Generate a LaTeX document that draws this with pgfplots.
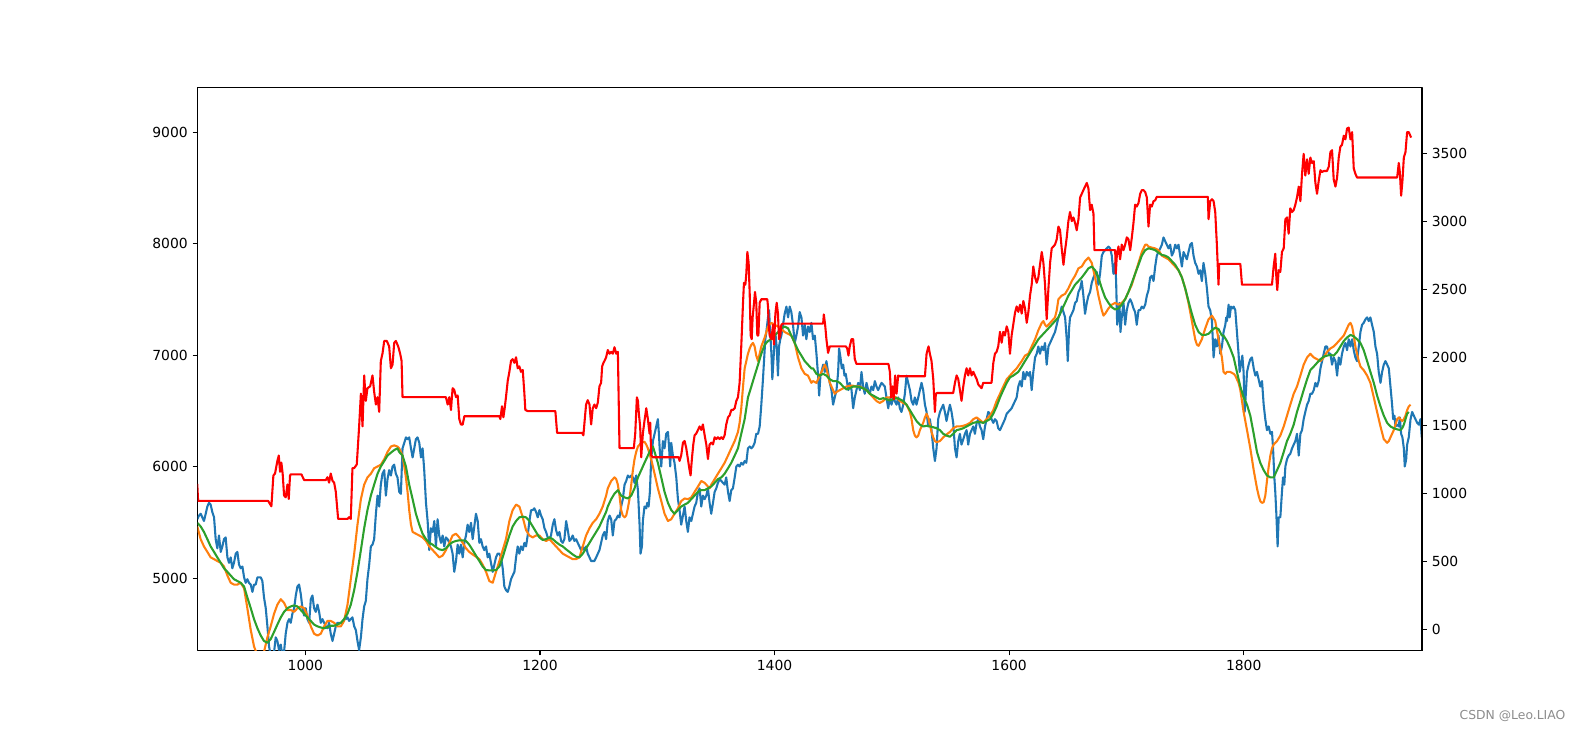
\documentclass[border=0pt]{standalone}
\usepackage{pgfplots}
\pgfplotsset{compat=1.18}
\usepackage{fontspec}
\setmainfont{DejaVu Sans}
\definecolor{cblue}{HTML}{1F77B4}
\definecolor{corange}{HTML}{FF7F0E}
\definecolor{cgreen}{HTML}{2CA02C}
\definecolor{cred}{HTML}{FF0000}
\pgfplotsset{
  mpl/.style={
    scale only axis, width=881.64pt, height=405.27pt,
    at={(142.2pt,57.9pt)}, anchor=south west,
    xmin=908, xmax=1952,
    tick align=outside, major tick length=3.5pt,
    tick style={line width=0.8pt, black},
    axis line style={line width=0.8pt},
    tick label style={font=\fontsize{10}{12}\selectfont},
    /pgf/number format/assume math mode=true,
    /pgf/number format/1000 sep={},
    line join=round,
  }
}
\begin{document}
\begin{tikzpicture}
\useasboundingbox (0,0) rectangle (1137.6pt,526.32pt);
\begin{axis}[mpl,
  ymin=4350, ymax=9398,
  xtick={1000,1200,1400,1600,1800},
  ytick={5000,6000,7000,8000,9000},
  xtick pos=left, ytick pos=left]
\addplot[cblue, line width=1.5pt] coordinates {
(907.8,5528)(909.3,5561)(910.7,5577)(912.1,5545)(913.5,5512)(915.0,5577)(916.4,5642)(917.8,5675)(919.2,5659)(920.6,5594)(922.1,5545)(923.5,5349)(924.9,5267)(926.3,5382)(927.8,5235)(929.2,5284)(930.6,5349)(932.0,5365)(933.5,5186)(934.9,5137)(936.3,5186)(937.7,5088)(939.1,5137)(940.6,5219)(942.0,5235)(943.4,5121)(944.8,5088)(946.3,5104)(947.7,5007)(949.1,4958)(950.5,4990)(951.9,4958)(953.4,4942)(954.8,4876)(956.2,4942)(957.6,4942)(959.1,5007)(960.5,5007)(961.9,5007)(963.3,4974)(964.7,4827)(966.2,4730)(967.6,4567)(969.0,4387)(970.4,4306)(971.9,4290)(973.3,4338)(974.7,4469)(976.1,4436)(977.5,4355)(979.0,4404)(980.4,4306)(981.8,4338)(983.2,4501)(984.7,4599)(986.1,4632)(987.5,4599)(988.9,4681)(990.4,4730)(991.8,4844)(993.2,4925)(994.6,4942)(996.0,4860)(997.5,4730)(998.9,4664)(1000.3,4730)(1001.7,4632)(1003.2,4599)(1004.6,4811)(1006.0,4844)(1007.4,4730)(1008.8,4697)(1010.3,4762)(1011.7,4697)(1013.1,4599)(1014.5,4632)(1016.0,4599)(1017.4,4567)(1018.8,4550)(1020.2,4599)(1021.6,4501)(1023.1,4436)(1024.5,4501)(1025.9,4567)(1027.3,4599)(1028.8,4599)(1030.2,4599)(1031.6,4599)(1033.0,4632)(1034.4,4632)(1035.9,4648)(1037.3,4616)(1038.7,4632)(1040.1,4648)(1041.6,4567)(1043.0,4534)(1044.4,4436)(1045.8,4355)(1047.3,4469)(1048.7,4632)(1050.1,4746)(1051.5,4795)(1052.9,4990)(1054.4,5121)(1055.8,5284)(1057.2,5300)(1058.6,5349)(1060.1,5577)(1061.5,5740)(1062.9,5642)(1064.3,5838)(1065.7,5936)(1067.2,5968)(1068.6,5740)(1070.0,5887)(1071.4,5968)(1072.9,5920)(1074.3,6001)(1075.7,6017)(1077.1,5936)(1078.5,5903)(1080.0,5773)
(1081.4,5756)(1082.8,6164)(1084.3,6213)(1085.7,6262)(1087.1,6246)(1088.5,6262)(1090.0,6164)(1091.4,6082)(1092.8,6164)(1094.2,6246)(1095.6,6262)(1097.1,6213)(1098.5,6082)(1099.9,6164)(1101.3,5968)(1102.8,5675)(1104.2,5512)(1105.6,5251)(1107.0,5447)(1108.5,5414)(1109.9,5512)(1111.3,5284)(1112.7,5528)(1114.1,5382)(1115.6,5316)(1117.0,5382)(1118.4,5284)(1119.8,5365)(1121.3,5349)(1122.7,5316)(1124.1,5284)(1125.5,5219)(1126.9,5056)(1128.4,5153)(1129.8,5300)(1131.2,5219)(1132.6,5300)(1134.1,5186)(1135.5,5316)(1136.9,5382)(1138.3,5479)(1139.7,5414)(1141.2,5496)(1142.6,5349)(1144.0,5463)(1145.4,5577)(1146.9,5512)(1148.3,5316)(1149.7,5349)(1151.1,5284)(1152.5,5251)(1154.0,5284)(1155.4,5186)(1156.8,5219)(1158.2,5137)(1159.7,5056)(1161.1,5121)(1162.5,5186)(1163.9,5219)(1165.4,5219)(1166.8,5186)(1168.2,5088)(1169.6,4925)(1171.0,4893)(1172.5,4876)(1173.9,4925)(1175.3,4990)(1176.7,5023)(1178.2,5056)(1179.6,5186)(1181.0,5284)(1182.4,5219)(1183.8,5284)(1185.3,5251)(1186.7,5316)(1188.1,5284)(1189.5,5382)(1191.0,5512)(1192.4,5610)(1193.8,5610)(1195.2,5626)(1196.6,5594)(1198.1,5545)(1199.5,5610)(1200.9,5561)(1202.3,5528)(1203.8,5447)(1205.2,5414)(1206.6,5365)(1208.0,5349)(1209.4,5382)(1210.9,5479)(1212.3,5528)(1213.7,5431)(1215.1,5382)(1216.6,5414)(1218.0,5333)(1219.4,5316)(1220.8,5349)(1222.3,5512)(1223.7,5431)(1225.1,5333)(1226.5,5349)(1227.9,5382)(1229.4,5333)(1230.8,5349)(1232.2,5316)(1233.6,5284)(1235.1,5251)(1236.5,5284)(1237.9,5251)(1239.3,5284)(1240.7,5219)(1242.2,5186)(1243.6,5153)(1245.0,5153)(1246.4,5153)(1247.9,5186)(1249.3,5219)(1250.7,5251)(1252.1,5316)(1253.5,5382)(1255.0,5414)
(1256.4,5349)(1257.8,5512)(1259.3,5561)(1260.7,5528)(1262.1,5382)(1263.5,5512)(1265.0,5528)(1266.4,5561)(1267.8,5545)(1269.2,5642)(1270.6,5708)(1272.1,5838)(1273.5,5871)(1274.9,5920)(1276.3,5903)(1277.8,5920)(1279.2,5903)(1280.6,5854)(1282.0,5920)(1283.5,5789)(1284.9,5479)(1285.7,5219)(1286.9,5284)(1287.7,5512)(1289.1,5642)(1290.6,5626)(1291.4,5675)(1292.6,5642)(1293.7,5773)(1294.8,6066)(1296.3,6229)(1297.7,6294)(1299.1,6360)(1300.5,6425)(1301.4,6294)(1302.2,6131)(1303.4,6001)(1304.8,6229)(1306.2,6164)(1307.6,6294)(1309.1,6311)(1309.9,6197)(1311.0,6001)(1311.9,6213)(1313.3,6099)(1314.7,6034)(1316.2,5903)(1317.6,5708)(1319.0,5610)(1320.4,5479)(1321.9,5561)(1323.3,5642)(1324.7,5512)(1326.1,5414)(1327.5,5545)(1329.0,5512)(1330.4,5577)(1331.8,5642)(1333.2,5675)(1334.7,5773)(1336.1,5805)(1337.5,5642)(1338.9,5740)(1340.4,5708)(1341.8,5740)(1343.2,5805)(1344.6,5675)(1346.0,5577)(1347.5,5675)(1348.9,5773)(1350.3,5805)(1351.7,5854)(1353.2,5887)(1354.6,5871)(1356.0,5854)(1357.4,5838)(1358.8,5903)(1360.3,5773)(1361.7,5691)(1363.1,5789)(1364.5,5805)(1366.0,5903)(1367.4,6001)(1368.8,6017)(1370.2,6001)(1371.6,6034)(1373.1,6017)(1374.5,6050)(1375.9,6034)(1377.3,6164)(1378.8,6180)(1380.2,6164)(1381.6,6180)(1383.0,6213)(1384.4,6294)(1385.9,6294)(1387.3,6360)(1388.7,6555)(1390.1,6783)(1391.0,6946)(1392.1,7142)(1393.0,7207)(1394.4,7338)(1395.3,7403)(1396.1,7240)(1397.3,7012)(1398.1,6783)(1399.0,6946)(1400.1,7142)(1400.9,7175)(1401.8,7077)(1402.9,6816)(1403.8,7077)(1404.9,7142)(1405.8,7175)(1407.2,7272)(1408.6,7370)(1410.1,7435)(1411.5,7338)(1412.9,7435)(1414.3,7386)(1415.7,7272)(1417.2,7109)(1418.6,7175)(1420.0,7256)(1421.4,7386)(1422.9,7338)(1424.3,7175)(1425.7,7272)(1427.1,7142)(1428.5,7256)(1430.0,7207)
(1431.4,7289)(1432.8,7142)(1434.3,7175)(1435.7,7012)(1437.1,6816)(1438.0,6637)(1439.1,6816)(1440.0,6849)(1441.4,6914)(1442.8,6849)(1444.2,6946)(1445.6,6849)(1447.1,6751)(1448.5,6686)(1449.9,6555)(1451.3,6620)(1452.8,6686)(1454.2,6849)(1455.0,7060)(1456.2,6979)(1457.3,6881)(1458.5,6914)(1459.6,6816)(1460.7,6832)(1461.9,6751)(1463.0,6686)(1464.1,6751)(1465.6,6686)(1467.0,6523)(1468.4,6620)(1469.8,6686)(1471.3,6751)(1472.7,6686)(1474.1,6849)(1475.5,6718)(1476.9,6653)(1478.4,6751)(1479.8,6686)(1481.2,6653)(1482.6,6718)(1484.1,6686)(1485.5,6767)(1486.9,6718)(1488.3,6686)(1489.7,6718)(1491.2,6751)(1492.6,6735)(1494.0,6718)(1495.4,6620)(1496.9,6523)(1498.3,6620)(1499.7,6555)(1501.1,6620)(1502.5,6588)(1504.0,6555)(1505.4,6620)(1506.8,6523)(1508.2,6490)(1509.7,6555)(1511.1,6653)(1512.5,6816)(1513.9,6751)(1515.4,6686)(1516.8,6588)(1518.2,6555)(1519.6,6620)(1521.0,6555)(1522.5,6620)(1523.9,6686)(1525.3,6751)(1526.7,6686)(1528.2,6555)(1529.6,6490)(1531.0,6360)(1532.4,6425)(1533.8,6327)(1535.3,6164)(1536.7,6050)(1538.1,6164)(1539.5,6425)(1541.0,6490)(1542.4,6523)(1543.8,6555)(1545.2,6490)(1546.6,6409)(1548.1,6490)(1549.5,6555)(1550.9,6490)(1552.3,6392)(1553.8,6164)(1555.2,6082)(1556.6,6229)(1558.0,6294)(1559.4,6197)(1560.9,6246)(1562.3,6294)(1563.7,6327)(1565.1,6197)(1566.6,6294)(1568.0,6327)(1569.4,6360)(1570.8,6294)(1572.3,6392)(1573.7,6425)(1575.1,6360)(1576.5,6327)(1577.9,6246)(1579.4,6360)(1580.8,6425)(1582.2,6490)(1583.6,6474)(1585.0,6425)(1586.5,6392)(1587.9,6425)(1589.3,6409)(1590.7,6344)(1592.2,6327)(1593.6,6360)(1595.0,6392)(1596.4,6425)(1597.9,6474)(1599.3,6490)(1600.7,6506)(1602.1,6523)(1603.5,6555)(1605.0,6588)
(1606.4,6620)(1607.8,6718)(1609.3,6767)(1610.7,6718)(1612.1,6849)(1613.5,6783)(1615.0,6849)(1616.4,6816)(1617.8,6849)(1619.2,6686)(1620.6,6849)(1622.1,6979)(1623.5,7012)(1624.9,7077)(1626.3,7012)(1627.8,7077)(1629.2,7044)(1630.6,7109)(1632.0,6914)(1633.5,7077)(1634.9,7109)(1636.3,7142)(1637.7,7175)(1639.1,7207)(1640.6,7272)(1642.0,7338)(1643.4,7370)(1644.8,7435)(1646.3,7386)(1647.7,7338)(1649.1,7142)(1650.0,6946)(1651.1,7240)(1651.9,7338)(1653.4,7370)(1654.8,7403)(1656.2,7468)(1657.6,7484)(1659.1,7566)(1660.5,7598)(1661.9,7664)(1663.3,7533)(1664.7,7370)(1666.2,7468)(1667.6,7533)(1669.0,7566)(1670.4,7647)(1671.9,7696)(1673.3,7729)(1674.7,7745)(1676.1,7631)(1677.5,7729)(1679.0,7892)(1680.4,7924)(1681.8,7941)(1683.2,7957)(1684.7,7973)(1686.1,7957)(1687.5,7892)(1688.9,7729)(1690.4,7827)(1691.2,7664)(1692.1,7272)(1693.2,7338)(1694.0,7468)(1694.9,7207)(1696.0,7338)(1697.5,7468)(1698.9,7272)(1700.3,7403)(1701.7,7468)(1703.2,7501)(1704.6,7468)(1706.0,7419)(1707.4,7386)(1708.8,7272)(1710.3,7403)(1711.7,7403)(1713.1,7435)(1714.5,7419)(1716.0,7452)(1717.4,7533)(1718.8,7582)(1720.2,7696)(1721.6,7712)(1723.1,7664)(1724.5,7794)(1725.9,7892)(1727.3,7924)(1728.8,7957)(1730.2,7990)(1731.6,8055)(1733.0,8022)(1734.4,7990)(1735.9,7957)(1737.3,7990)(1738.7,7892)(1740.1,7924)(1741.6,7990)(1743.0,7957)(1744.4,7990)(1745.8,7892)(1747.3,7794)(1748.7,7924)(1750.1,7892)(1751.5,7859)(1752.9,7924)(1754.4,7990)(1755.8,8006)(1757.2,7892)(1758.6,7827)(1760.1,7794)(1761.5,7729)(1762.9,7761)(1764.3,7664)(1765.7,7827)(1767.2,7729)(1768.6,7598)(1770.0,7435)(1771.4,7403)(1772.9,7305)(1774.3,6979)(1775.7,7142)(1777.1,7077)(1778.5,7175)(1780.0,7012)
(1781.4,7077)(1782.8,7207)(1784.3,7272)(1785.1,7338)(1785.7,7305)(1787.1,7452)(1788.0,7338)(1789.1,7435)(1790.2,7419)(1791.4,7435)(1792.8,7403)(1794.2,7207)(1795.6,7012)(1796.5,6849)(1797.6,6914)(1798.8,6995)(1799.9,6849)(1800.8,6490)(1801.6,6620)(1802.8,6849)(1804.2,6914)(1805.6,6963)(1807.0,6979)(1808.5,6881)(1809.9,6816)(1811.3,6849)(1812.7,6783)(1814.1,6718)(1815.6,6767)(1817.0,6555)(1818.4,6425)(1819.8,6327)(1821.3,6360)(1822.7,6294)(1824.1,6311)(1825.0,6164)(1826.1,5903)(1826.9,5773)(1827.8,5577)(1828.9,5284)(1829.8,5545)(1831.2,5545)(1832.6,5773)(1833.5,5903)(1834.6,5838)(1835.5,6001)(1836.9,6066)(1838.3,6099)(1839.7,6115)(1841.2,6164)(1842.6,6197)(1844.0,6229)(1845.4,6294)(1846.9,6099)(1848.3,6294)(1849.7,6327)(1851.1,6425)(1852.5,6490)(1854.0,6555)(1855.4,6588)(1856.8,6653)(1858.2,6653)(1859.7,6686)(1861.1,6751)(1862.5,6718)(1863.9,6767)(1865.4,6881)(1866.8,6946)(1868.2,7012)(1869.6,7077)(1871.0,7077)(1872.5,7012)(1873.9,7012)(1875.3,6914)(1876.7,6979)(1878.2,6946)(1879.6,6816)(1881.0,6979)(1882.4,6914)(1883.8,7012)(1885.3,7077)(1886.7,7109)(1888.1,7044)(1889.5,7142)(1891.0,7077)(1892.4,7142)(1893.8,7044)(1895.2,6979)(1896.6,6946)(1898.1,7077)(1899.5,7207)(1900.9,7272)(1902.3,7289)(1903.8,7321)(1905.2,7338)(1906.6,7305)(1908.0,7338)(1909.4,7272)(1910.9,7207)(1912.3,7077)(1913.7,7012)(1915.1,6849)(1916.6,6751)(1918.0,6849)(1919.4,6914)(1920.8,6946)(1922.3,6914)(1923.7,6881)(1925.1,6718)(1926.5,6555)(1927.4,6425)(1928.5,6457)(1929.4,6360)(1930.8,6376)(1932.2,6360)(1933.1,6441)(1934.2,6294)(1935.3,6262)(1936.5,6164)(1937.3,6001)(1938.5,6066)(1939.3,6197)(1940.7,6262)(1942.2,6425)(1943.6,6490)(1945.0,6457)(1946.4,6425)(1947.9,6392)(1949.3,6376)(1950.7,6425)(1951.8,6262)
};
\addplot[corange, line width=1.5pt] coordinates {
(907.8,5463)(910.7,5349)(913.5,5284)(916.4,5235)(919.2,5186)(922.1,5170)(924.9,5153)(927.8,5137)(930.6,5104)(933.5,5023)(936.3,4958)(939.1,4942)(942.0,4942)(944.8,4958)(947.7,4909)(950.5,4730)(953.4,4534)(956.2,4387)(959.1,4306)(961.9,4290)(964.7,4338)(967.6,4469)(970.4,4567)(973.3,4681)(976.1,4762)(979.0,4811)(981.8,4778)(984.7,4714)(987.5,4714)(990.4,4697)(993.2,4730)(996.0,4746)(998.9,4730)(1001.7,4664)(1004.6,4567)(1007.4,4501)(1010.3,4485)(1013.1,4501)(1016.0,4567)(1018.8,4616)(1021.6,4616)(1024.5,4599)(1027.3,4567)(1030.2,4567)(1033.0,4616)(1035.9,4762)(1038.7,4990)(1041.6,5219)(1044.4,5479)(1047.3,5708)(1050.1,5838)(1052.9,5903)(1055.8,5936)(1058.6,5985)(1061.5,6001)(1064.3,6017)(1067.2,6066)(1070.0,6131)(1072.9,6180)(1075.7,6190)(1078.5,6180)
(1080.0,6164)(1082.8,6099)(1084.3,6001)(1085.7,5903)(1087.1,5773)(1088.5,5610)(1090.0,5479)(1091.4,5414)(1094.2,5398)(1097.1,5382)(1099.9,5365)(1102.8,5333)(1105.6,5284)(1108.5,5251)(1111.3,5219)(1114.1,5186)(1117.0,5202)(1119.8,5251)(1122.7,5316)(1125.5,5382)(1128.4,5398)(1131.2,5365)(1134.1,5316)(1136.9,5267)(1139.7,5235)(1142.6,5212)(1145.4,5192)(1148.3,5170)(1151.1,5121)(1154.0,5056)(1156.8,4974)(1159.7,4958)(1162.5,5056)(1165.4,5153)(1168.2,5251)(1171.0,5349)(1173.9,5512)(1176.7,5610)(1179.6,5659)(1182.4,5642)(1185.3,5545)(1188.1,5431)(1191.0,5382)(1193.8,5365)(1196.6,5382)(1199.5,5382)(1202.3,5349)(1205.2,5333)(1208.0,5349)(1210.9,5316)(1213.7,5284)(1216.6,5251)(1219.4,5219)(1222.3,5202)(1225.1,5186)(1227.9,5170)(1230.8,5170)(1233.6,5186)(1236.5,5284)(1239.3,5382)(1242.2,5447)(1245.0,5496)(1247.9,5528)(1250.7,5577)(1253.5,5642)(1256.4,5740)
(1257.8,5805)(1260.7,5871)(1263.5,5903)(1265.0,5887)(1266.4,5838)(1267.8,5740)(1269.2,5610)(1270.6,5561)(1272.1,5545)(1273.5,5561)(1274.9,5626)(1276.3,5708)(1277.8,5838)(1279.2,5968)(1280.6,6066)(1282.0,6131)(1283.5,6180)(1286.3,6213)(1289.1,6223)(1290.6,6197)(1292.0,6164)(1294.8,6066)(1297.7,5936)(1300.5,5805)(1303.4,5691)(1306.2,5577)(1309.1,5512)(1311.9,5528)(1314.7,5577)(1317.6,5626)(1320.4,5691)(1323.3,5714)(1326.1,5708)(1329.0,5724)(1331.8,5773)(1334.7,5821)(1337.5,5871)(1340.4,5854)(1343.2,5821)(1344.6,5805)(1346.0,5838)(1348.9,5887)(1351.7,5936)(1354.6,5985)(1357.4,6034)(1360.3,6099)(1363.1,6164)(1366.0,6229)(1368.8,6311)(1370.2,6392)(1371.6,6523)(1373.1,6718)(1374.5,6881)(1375.9,6946)(1377.3,7012)(1378.8,7060)(1380.2,7093)(1381.6,7109)(1383.0,7077)(1384.4,6995)(1385.9,6946)(1387.3,7012)(1388.7,7077)(1391.6,7158)(1394.4,7256)(1397.3,7289)(1400.1,7272)(1402.9,7256)(1405.8,7233)(1408.6,7207)(1411.5,7191)(1414.3,7175)(1417.2,7109)(1420.0,6979)(1422.9,6881)(1425.7,6832)(1428.5,6816)(1431.4,6751)
(1432.8,6767)(1435.7,6751)(1438.5,6816)(1441.4,6881)(1442.8,6914)(1444.2,6881)(1445.6,6816)(1447.1,6751)(1449.9,6686)(1451.3,6653)(1452.8,6669)(1455.6,6686)(1458.5,6702)(1461.3,6718)(1464.1,6725)(1467.0,6725)(1469.8,6718)(1472.7,6718)(1475.5,6702)(1478.4,6686)(1481.2,6653)(1484.1,6620)(1486.9,6588)(1489.7,6571)(1492.6,6588)(1495.4,6620)(1498.3,6620)(1501.1,6627)(1504.0,6620)(1506.8,6588)(1509.7,6571)(1512.5,6555)(1515.4,6490)(1516.8,6425)(1518.2,6327)(1519.6,6278)(1521.0,6262)(1522.5,6278)(1523.9,6327)(1525.3,6360)(1526.7,6392)(1528.2,6441)(1529.6,6474)(1531.0,6441)(1532.4,6376)(1533.8,6311)(1535.3,6262)(1536.7,6229)(1538.1,6219)(1541.0,6229)(1543.8,6262)(1546.6,6288)(1549.5,6311)(1552.3,6344)(1555.2,6360)(1558.0,6360)(1560.9,6366)(1563.7,6376)(1566.6,6392)(1569.4,6425)(1572.3,6441)(1575.1,6418)(1577.9,6392)(1580.8,6425)(1583.6,6457)(1586.5,6506)(1589.3,6588)(1592.2,6653)(1593.6,6686)(1595.0,6718)(1597.9,6783)(1600.7,6816)(1603.5,6849)(1606.4,6881)
(1610.7,6946)(1613.5,6995)(1616.4,7012)(1619.2,7077)(1622.1,7142)(1624.9,7223)(1627.8,7289)(1629.2,7305)(1630.6,7272)(1632.0,7256)(1633.5,7272)(1636.3,7305)(1639.1,7338)(1640.6,7403)(1642.0,7501)(1644.8,7533)(1647.7,7549)(1650.5,7598)(1653.4,7664)(1656.2,7712)(1659.1,7778)(1661.9,7794)(1664.7,7843)(1667.6,7875)(1670.4,7827)(1673.3,7696)(1676.1,7533)(1679.0,7403)(1680.4,7354)(1681.8,7370)(1684.7,7419)(1687.5,7452)(1690.4,7468)(1693.2,7452)(1696.0,7468)(1698.9,7501)(1701.7,7566)(1704.6,7631)(1707.4,7729)(1710.3,7827)(1713.1,7924)(1716.0,7990)(1717.4,7990)(1718.8,7973)(1721.6,7964)(1724.5,7957)(1727.3,7941)(1730.2,7892)(1733.0,7875)(1735.9,7859)(1738.7,7827)(1741.6,7794)(1744.4,7761)(1747.3,7696)(1750.1,7598)(1752.9,7468)(1755.8,7305)(1758.6,7142)(1760.1,7093)(1761.5,7083)(1764.3,7142)(1767.2,7240)(1770.0,7321)(1772.9,7354)(1775.7,7305)(1778.5,7142)(1781.4,6979)
(1782.8,6849)(1784.3,6832)(1785.7,6849)(1788.5,6849)(1791.4,6832)(1792.8,6816)(1794.2,6783)(1795.6,6751)(1797.1,6686)(1798.5,6588)(1799.9,6490)(1802.8,6327)(1805.6,6164)(1808.5,5968)(1811.3,5805)(1812.7,5740)(1814.1,5691)(1815.6,5675)(1817.0,5681)(1818.4,5740)(1819.8,5871)(1821.3,6001)(1822.7,6099)(1824.1,6164)(1825.5,6197)(1828.4,6229)(1831.2,6278)(1834.1,6360)(1836.9,6457)(1839.7,6555)(1842.6,6653)(1845.4,6718)(1848.3,6816)(1851.1,6914)(1854.0,6979)(1856.8,7012)(1858.2,6995)(1859.7,6979)(1862.5,6963)(1865.4,6946)(1868.2,6979)(1871.0,7028)(1873.9,7060)(1876.7,7077)(1879.6,7109)(1882.4,7142)(1885.3,7175)(1888.1,7240)(1889.5,7272)(1891.0,7289)(1892.4,7256)(1893.8,7175)(1895.2,7077)(1896.6,7012)(1898.1,6946)(1899.5,6897)(1902.3,6865)(1905.2,6816)(1908.0,6751)(1910.9,6620)(1913.7,6490)(1916.6,6360)(1919.4,6246)(1922.3,6213)(1923.7,6229)(1925.1,6262)(1927.9,6327)(1930.8,6425)(1932.2,6441)(1933.6,6425)(1935.1,6409)(1936.5,6425)(1937.9,6457)(1939.3,6506)(1940.7,6539)(1942.2,6555)
};
\addplot[cgreen, line width=1.5pt] coordinates {
(907.8,5496)(910.7,5463)(913.5,5414)(916.4,5349)(919.2,5284)(922.1,5235)(924.9,5186)(927.8,5137)(930.6,5088)(933.5,5056)(936.3,5023)(939.1,4990)(942.0,4974)(944.8,4958)(947.7,4925)(950.5,4827)(953.4,4730)(956.2,4632)(959.1,4550)(961.9,4485)(964.7,4436)(967.6,4420)(970.4,4452)(973.3,4518)(976.1,4583)(979.0,4648)(981.8,4697)(984.7,4730)(987.5,4746)(990.4,4755)(993.2,4746)(996.0,4714)(998.9,4681)(1001.7,4648)(1004.6,4616)(1007.4,4583)(1010.3,4567)(1013.1,4557)(1016.0,4550)(1018.8,4560)(1021.6,4573)(1024.5,4573)(1027.3,4583)(1030.2,4599)(1033.0,4632)(1035.9,4681)(1038.7,4762)(1041.6,4893)(1044.4,5056)(1047.3,5251)(1050.1,5447)(1052.9,5610)(1055.8,5740)(1058.6,5838)(1061.5,5936)(1064.3,6001)(1067.2,6050)(1070.0,6099)(1072.9,6125)(1075.7,6148)(1078.5,6164)
(1080.0,6131)(1082.8,6099)(1085.7,6001)(1088.5,5838)(1091.4,5708)(1094.2,5577)(1097.1,5479)(1099.9,5398)(1102.8,5349)(1105.6,5316)(1108.5,5300)(1111.3,5277)(1114.1,5258)(1117.0,5251)(1119.8,5267)(1122.7,5300)(1125.5,5323)(1128.4,5333)(1131.2,5339)(1134.1,5339)(1136.9,5333)(1139.7,5300)(1142.6,5251)(1145.4,5202)(1148.3,5153)(1151.1,5104)(1154.0,5072)(1156.8,5069)(1159.7,5069)(1162.5,5072)(1165.4,5104)(1168.2,5186)(1171.0,5284)(1173.9,5382)(1176.7,5463)(1179.6,5512)(1182.4,5545)(1185.3,5551)(1188.1,5545)(1191.0,5512)(1193.8,5463)(1196.6,5414)(1199.5,5365)(1202.3,5342)(1205.2,5349)(1208.0,5365)(1210.9,5349)(1213.7,5323)(1216.6,5300)(1219.4,5284)(1222.3,5258)(1225.1,5235)(1227.9,5212)(1230.8,5192)(1233.6,5186)(1236.5,5219)(1239.3,5267)(1242.2,5316)(1245.0,5365)(1247.9,5414)(1250.7,5463)(1253.5,5528)(1256.4,5594)
(1257.8,5642)(1260.7,5708)(1263.5,5757)(1266.4,5789)(1269.2,5740)(1272.1,5724)(1274.9,5714)(1277.8,5740)(1280.6,5805)(1283.5,5903)(1286.3,5968)(1289.1,6034)(1292.0,6099)(1294.8,6164)(1296.3,6180)(1297.7,6131)(1300.5,6034)(1303.4,5903)(1306.2,5773)(1309.1,5675)(1311.9,5610)(1314.7,5577)(1317.6,5610)(1320.4,5642)(1323.3,5659)(1326.1,5675)(1329.0,5708)(1331.8,5740)(1334.7,5773)(1337.5,5789)(1340.4,5789)(1343.2,5805)(1346.0,5821)(1348.9,5854)(1351.7,5887)(1354.6,5903)(1357.4,5936)(1360.3,5985)(1363.1,6034)(1366.0,6099)(1368.8,6164)(1371.6,6294)(1374.5,6425)(1377.3,6620)(1380.2,6718)(1383.0,6816)(1385.9,6914)(1388.7,7012)(1391.6,7093)(1394.4,7126)(1397.3,7142)(1400.1,7175)(1402.9,7207)(1405.8,7240)(1408.6,7256)(1411.5,7240)(1414.3,7175)(1417.2,7109)(1420.0,7044)(1422.9,6995)(1425.7,6946)(1428.5,6914)(1431.4,6880)
(1432.8,6881)(1435.7,6832)(1438.5,6816)(1441.4,6832)(1444.2,6816)(1447.1,6783)(1449.9,6767)(1452.8,6767)(1455.6,6751)(1458.5,6718)(1461.3,6692)(1464.1,6702)(1467.0,6718)(1469.8,6718)(1472.7,6712)(1475.5,6702)(1478.4,6686)(1481.2,6653)(1484.1,6637)(1486.9,6620)(1489.7,6604)(1492.6,6614)(1495.4,6604)(1498.3,6594)(1501.1,6604)(1504.0,6614)(1506.8,6604)(1509.7,6588)(1512.5,6555)(1515.4,6506)(1518.2,6457)(1521.0,6409)(1523.9,6376)(1526.7,6360)(1529.6,6366)(1532.4,6360)(1535.3,6353)(1538.1,6344)(1541.0,6327)(1543.8,6294)(1546.6,6278)(1549.5,6268)(1552.3,6294)(1555.2,6327)(1558.0,6334)(1560.9,6344)(1563.7,6360)(1566.6,6376)(1569.4,6392)(1572.3,6399)(1575.1,6399)(1577.9,6392)(1580.8,6409)(1583.6,6425)(1586.5,6474)(1589.3,6539)(1592.2,6620)(1595.0,6686)(1597.9,6751)(1600.7,6800)(1603.5,6816)
(1607.8,6849)(1610.7,6897)(1613.5,6946)(1616.4,6995)(1619.2,7044)(1622.1,7093)(1624.9,7142)(1627.8,7175)(1630.6,7207)(1633.5,7240)(1636.3,7272)(1639.1,7305)(1642.0,7338)(1644.8,7403)(1647.7,7468)(1650.5,7533)(1653.4,7582)(1656.2,7631)(1659.1,7664)(1661.9,7696)(1664.7,7735)(1667.6,7778)(1670.4,7794)(1673.3,7761)(1676.1,7696)(1679.0,7598)(1681.8,7517)(1684.7,7468)(1687.5,7429)(1690.4,7409)(1693.2,7419)(1696.0,7452)(1698.9,7501)(1701.7,7566)(1704.6,7647)(1707.4,7729)(1710.3,7810)(1713.1,7892)(1716.0,7941)(1718.8,7957)(1721.6,7951)(1724.5,7941)(1727.3,7918)(1730.2,7898)(1733.0,7892)(1735.9,7875)(1738.7,7843)(1741.6,7810)(1744.4,7761)(1747.3,7696)(1750.1,7598)(1752.9,7484)(1755.8,7370)(1758.6,7272)(1761.5,7207)(1764.3,7181)(1767.2,7181)(1770.0,7191)(1772.9,7223)(1775.7,7246)(1778.5,7233)(1781.4,7175)
(1782.8,7175)(1785.7,7126)(1788.5,7060)(1791.4,6979)(1794.2,6849)(1797.1,6718)(1799.9,6620)(1802.8,6555)(1805.6,6457)(1808.5,6294)(1811.3,6131)(1814.1,6034)(1817.0,5968)(1819.8,5920)(1822.7,5903)(1825.5,5903)(1828.4,5968)(1831.2,6034)(1834.1,6131)(1836.9,6229)(1839.7,6294)(1842.6,6376)(1845.4,6490)(1848.3,6588)(1851.1,6686)(1854.0,6783)(1856.8,6865)(1859.7,6897)(1862.5,6930)(1865.4,6963)(1868.2,6986)(1871.0,6995)(1873.9,7002)(1876.7,6995)(1879.6,7028)(1882.4,7077)(1885.3,7126)(1888.1,7158)(1891.0,7181)(1893.8,7168)(1896.6,7142)(1899.5,7109)(1902.3,7044)(1905.2,6946)(1908.0,6849)(1910.9,6751)(1913.7,6637)(1916.6,6539)(1919.4,6457)(1922.3,6392)(1925.1,6360)(1927.9,6344)(1930.8,6334)(1933.6,6327)(1935.1,6344)(1936.5,6376)(1937.9,6425)(1939.3,6474)(1940.7,6490)
};
\end{axis}
\begin{axis}[mpl,
  ymin=-156, ymax=3987,
  axis x line=none, axis y line*=right,
  ytick={0,500,1000,1500,2000,2500,3000,3500},
  ytick pos=right]
\addplot[cred, line width=1.5pt] coordinates {
(907.8,1070)(908.5,946)(968.2,946)(971.0,906)(972.7,1133)(974.1,1147)(976.1,1240)(977.3,1280)(978.4,1160)(979.5,1227)(980.6,1147)(981.8,986)(983.2,972)(984.7,1067)(985.8,960)(986.9,1133)(987.5,1141)(996.6,1141)(998.9,1099)(1017.4,1099)(1018.8,1120)(1020.2,1080)(1021.6,1147)(1023.1,1094)(1024.5,1080)(1025.9,1013)(1027.9,813)(1035.9,813)(1037.3,826)(1038.7,813)(1040.1,1187)(1041.6,1187)(1043.8,1214)(1045.8,1494)(1047.3,1735)(1048.7,1494)(1050.1,1869)(1051.5,1682)(1052.9,1775)(1055.2,1789)(1057.2,1869)(1058.6,1749)(1060.1,1655)(1061.5,1709)(1062.9,1601)(1064.3,1976)(1065.7,2029)(1067.2,2123)(1069.4,2123)(1071.4,2083)(1072.9,1922)(1074.3,1949)(1075.7,2109)(1077.1,2123)(1079.1,2083)(1080.8,2029)(1082.0,1976)(1082.8,1709)
(1119.8,1709)(1121.3,1655)(1122.7,1709)(1124.1,1615)(1125.5,1775)(1126.9,1762)(1128.4,1709)(1129.8,1722)(1131.2,1548)(1132.6,1508)(1134.1,1508)(1135.5,1569)(1165.4,1569)(1166.2,1548)(1167.6,1642)(1168.8,1561)(1169.9,1628)(1171.0,1709)(1172.5,1829)(1173.9,1896)(1175.3,1976)(1176.7,1989)(1178.2,1962)(1179.6,2003)(1181.0,1922)(1182.4,1936)(1183.8,1896)(1185.3,1909)(1186.7,1735)(1187.5,1615)(1189.5,1607)(1213.1,1607)(1214.6,1446)(1235.9,1446)(1237.0,1428)(1238.2,1548)(1239.3,1655)(1240.7,1687)(1242.2,1655)(1243.6,1508)(1245.0,1628)(1246.4,1655)(1247.9,1628)(1249.3,1669)(1250.7,1789)(1252.1,1815)(1253.0,1936)(1254.1,1962)(1255.0,1976)(1256.4,2003)(1257.8,2056)(1259.3,2029)(1260.7,2043)(1262.1,2029)(1263.5,2077)(1265.0,2029)(1266.4,2043)(1267.8,1334)
(1280.0,1334)(1281.2,1441)(1282.6,1708)(1283.5,1682)(1284.3,1588)(1285.4,1494)(1286.3,1267)(1287.7,1441)(1289.1,1535)(1290.6,1628)(1292.0,1548)(1293.4,1441)(1294.0,1521)(1294.8,1281)(1296.3,1267)(1318.2,1267)(1319.0,1240)(1320.4,1281)(1321.9,1374)(1323.3,1387)(1324.7,1334)(1326.1,1254)(1327.5,1174)(1328.4,1133)(1329.5,1254)(1330.7,1361)(1331.8,1428)(1333.2,1441)(1334.7,1468)(1336.1,1494)(1337.5,1468)(1338.9,1508)(1340.4,1428)(1341.8,1361)(1343.2,1254)(1344.6,1361)(1346.0,1374)(1347.5,1361)(1348.9,1414)(1350.3,1401)(1351.7,1414)(1353.2,1401)(1354.6,1414)(1356.0,1401)(1357.4,1428)(1358.8,1508)(1360.3,1561)(1361.7,1575)(1363.1,1615)(1364.5,1615)(1366.0,1628)(1367.4,1682)(1368.8,1709)(1370.2,1815)(1371.6,2083)(1373.1,2404)(1373.9,2551)(1375.1,2537)(1375.9,2617)(1376.8,2778)(1377.9,2698)(1378.8,2471)(1379.6,2163)(1380.5,2136)(1381.3,2297)(1382.5,2404)(1383.3,2484)(1384.4,2404)(1385.3,2163)(1386.2,2163)(1387.3,2404)(1388.7,2430)(1393.8,2430)(1394.4,2377)(1395.0,2243)(1395.8,2163)(1397.3,2136)(1398.7,2243)(1399.5,2096)(1400.7,2324)(1401.8,2404)(1402.9,2324)(1403.8,2136)(1404.9,2163)(1405.8,2243)(1407.2,2251)
(1441.4,2251)(1442.0,2318)(1443.1,2243)(1444.2,2136)(1445.6,2035)(1447.1,2083)(1460.7,2083)(1461.9,2069)(1463.0,2016)(1464.1,2083)(1465.6,2136)(1467.0,2136)(1468.4,1989)(1469.8,1954)(1497.1,1954)(1498.3,1896)(1499.4,1708)(1500.6,1789)(1501.7,1695)(1502.8,1869)(1504.0,1735)(1505.4,1869)(1506.8,1863)(1528.2,1863)(1529.6,2029)(1530.4,2056)(1531.3,2083)(1532.4,2029)(1533.8,1976)(1535.3,1842)(1536.7,1601)(1537.5,1735)(1538.7,1740)(1552.3,1740)(1553.8,1815)(1555.2,1869)(1556.6,1842)(1558.0,1762)(1559.4,1682)(1560.9,1789)(1562.3,1869)(1563.7,1922)(1565.1,1869)(1566.6,1922)(1568.0,1869)(1569.4,1896)(1570.8,1869)(1572.3,1842)(1573.7,1802)(1575.1,1789)(1576.5,1775)(1577.9,1815)(1585.0,1815)(1586.5,1962)(1587.9,2029)(1589.3,2043)(1590.7,2083)(1592.2,2190)(1593.6,2110)(1595.0,2190)(1596.4,2163)(1597.9,2230)(1599.3,2190)(1600.7,2029)(1602.1,2163)(1603.5,2243)(1605.0,2330)
(1606.4,2377)(1607.8,2337)(1609.3,2390)(1610.7,2324)(1612.1,2417)(1613.5,2364)(1615.0,2257)(1616.4,2337)(1617.8,2457)(1619.2,2537)(1620.6,2671)(1622.1,2591)(1623.5,2551)(1624.9,2591)(1626.3,2684)(1627.8,2778)(1629.2,2698)(1630.6,2537)(1632.0,2283)(1633.5,2511)(1634.9,2698)(1636.3,2805)(1637.7,2818)(1639.1,2832)(1640.6,2872)(1642.0,2965)(1643.4,2938)(1644.8,2805)(1646.3,2684)(1647.7,2791)(1649.1,2885)(1650.5,3005)(1651.9,3072)(1653.4,3005)(1654.8,3032)(1656.2,2992)(1657.6,2938)(1659.1,3019)(1660.5,3179)(1661.9,3206)(1663.3,3233)(1664.7,3259)(1666.2,3286)(1667.6,3246)(1669.0,3086)(1670.4,3126)(1671.9,3059)(1672.7,2791)(1690.4,2791)(1690.9,2618)(1691.8,2751)(1693.2,2818)(1694.6,2724)(1696.0,2832)(1697.5,2791)(1698.9,2832)(1700.3,2885)(1701.7,2872)(1703.2,2791)(1704.6,2885)(1706.0,2992)(1707.4,3126)(1708.8,3112)(1710.3,3139)(1711.7,3206)(1713.1,3233)(1714.5,3233)(1716.0,3219)(1717.4,3179)(1718.8,2965)(1720.2,3126)(1721.6,3112)(1723.1,3152)(1724.5,3158)(1725.9,3184)(1769.4,3184)(1770.0,3019)(1771.4,3152)(1772.9,3166)(1774.3,3152)(1775.7,3072)(1777.1,2832)(1778.5,2537)(1779.1,2690)
(1797.1,2690)(1798.5,2537)(1824.1,2537)(1825.5,2671)(1826.9,2765)(1827.8,2591)(1828.6,2497)(1829.8,2644)(1831.2,2631)(1832.6,2778)(1834.1,2805)(1835.5,3019)(1836.9,3032)(1838.3,2912)(1839.7,3099)(1841.2,3072)(1842.6,3086)(1844.0,3126)(1845.4,3179)(1846.9,3259)(1848.3,3152)(1849.7,3353)(1851.1,3500)(1852.5,3340)(1854.0,3460)(1855.4,3353)(1856.8,3473)(1858.2,3433)(1859.7,3446)(1861.1,3286)(1862.5,3206)(1863.9,3299)(1865.4,3380)(1866.8,3366)(1868.2,3374)(1871.0,3374)(1872.5,3406)(1873.9,3513)(1875.3,3527)(1876.7,3313)(1878.2,3259)(1879.6,3326)(1881.0,3473)(1882.4,3553)(1883.8,3567)(1885.3,3634)(1886.7,3607)(1888.1,3687)(1889.5,3693)(1891.0,3607)(1892.4,3660)(1893.8,3393)(1895.2,3353)(1896.6,3326)(1930.8,3326)(1932.2,3433)(1933.1,3366)(1934.2,3192)(1935.3,3299)(1936.5,3473)(1937.9,3513)(1939.3,3660)(1940.7,3660)(1942.7,3620)
};
\end{axis}
\node[text={rgb,255:red,140;green,140;blue,140}, font=\fontsize{8.9}{10}\selectfont, inner sep=0pt] at (1089pt,10.8pt) {CSDN @Leo.LIAO};
\end{tikzpicture}
\end{document}
